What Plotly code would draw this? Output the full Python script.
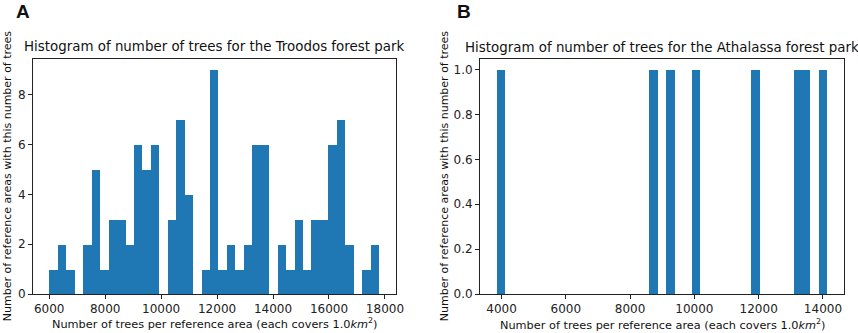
import plotly.graph_objects as go

# ---- data ----
troodos_bin_start = 6010
troodos_bin_width = 302
troodos_counts = [1, 2, 1, 0, 2, 5, 1, 3, 3, 2, 6, 5, 6, 0, 3, 7, 4, 0, 1, 9,
                  1, 2, 1, 2, 6, 6, 0, 2, 1, 3, 1, 3, 3, 6, 7, 2, 0, 1, 2]

athalassa_bin_start = 3844
athalassa_bin_width = 264
athalassa_counts = [1, 0, 0, 0, 0, 0, 0, 0, 0, 0, 0, 0, 0, 0, 0, 0, 0, 0, 1, 0,
                    1, 0, 0, 1, 0, 0, 0, 0, 0, 0, 1, 0, 0, 0, 0, 1, 1, 0, 1]

troodos_xticks = [6000, 8000, 10000, 12000, 14000, 16000, 18000]
troodos_yticks = [0, 2, 4, 6, 8]
athalassa_xticks = [4000, 6000, 8000, 10000, 12000, 14000]
athalassa_yticks = [0.0, 0.2, 0.4, 0.6, 0.8, 1.0]

title_a = "Histogram of number of trees for the Troodos forest park"
title_b = "Histogram of number of trees for the Athalassa forest park"
xlabel = "Number of trees per reference area (each covers 1.0<i>km</i><sup>2</sup>)"
ylabel = "Number of reference areas with this number of trees"

W, H = 858, 333
BAR = "#1f77b4"
FONT = "DejaVu Sans"


def centers(start, width, counts):
    return [start + (i + 0.5) * width for i in range(len(counts))]


def padded(lo, hi, frac=0.05):
    d = hi - lo
    return [lo - frac * d, hi + frac * d]


fig = go.Figure()
fig.add_trace(go.Bar(
    x=centers(troodos_bin_start, troodos_bin_width, troodos_counts),
    y=troodos_counts, width=troodos_bin_width,
    marker=dict(color=BAR, line=dict(width=0)),
    xaxis="x", yaxis="y", showlegend=False))
fig.add_trace(go.Bar(
    x=centers(athalassa_bin_start, athalassa_bin_width, athalassa_counts),
    y=athalassa_counts, width=athalassa_bin_width,
    marker=dict(color=BAR, line=dict(width=0)),
    xaxis="x2", yaxis="y2", showlegend=False))

# plot-area pixel boxes
L1, R1 = 33, 395.5
L2, R2 = 480, 844
TOP, BOT = 58.5, 294

ydom = [(H - BOT) / H, (H - TOP) / H]

axis_common = dict(showline=True, mirror=True, linecolor="#222", linewidth=1,
                   ticks="outside", ticklen=4, tickcolor="#222", showgrid=False,
                   zeroline=False, automargin=False,
                   tickfont=dict(family=FONT, size=12, color="#222"))

t_lo = troodos_bin_start
t_hi = troodos_bin_start + troodos_bin_width * len(troodos_counts)
a_lo = athalassa_bin_start
a_hi = athalassa_bin_start + athalassa_bin_width * len(athalassa_counts)

fig.update_layout(
    width=W, height=H, margin=dict(l=0, r=0, t=0, b=0, autoexpand=False),
    paper_bgcolor="white", plot_bgcolor="white", bargap=0,
    font=dict(family=FONT, size=11, color="#222"),
    xaxis=dict(domain=[L1 / W, R1 / W], range=padded(t_lo, t_hi),
               tickvals=troodos_xticks, tickformat="d", anchor="y", **axis_common),
    yaxis=dict(domain=ydom, range=[0, max(troodos_counts) * 1.05],
               tickvals=troodos_yticks, tickformat="d", anchor="x", **axis_common),
    xaxis2=dict(domain=[L2 / W, R2 / W], range=padded(a_lo, a_hi),
                tickvals=athalassa_xticks, tickformat="d", anchor="y2", **axis_common),
    yaxis2=dict(domain=ydom, range=[0, max(athalassa_counts) * 1.05],
                tickvals=athalassa_yticks, tickformat=".1f", anchor="x2", **axis_common),
)


def ann(text, x, y, size, angle=0, bold=False, family=FONT):
    fig.add_annotation(text=f"<b>{text}</b>" if bold else text,
                       x=x / W, y=1 - y / H, xref="paper", yref="paper",
                       xanchor="center", yanchor="middle", showarrow=False,
                       textangle=angle, font=dict(family=family, size=size, color="#111"))


ann("A", 23, 12, 19, bold=True, family="Liberation Sans")
ann("B", 464, 12, 19, bold=True, family="Liberation Sans")
ann(title_a, (L1 + R1) / 2, 46, 13.4)
ann(title_b, (L2 + R2) / 2, 47, 13.4)
ann(xlabel, (L1 + R1) / 2, 323, 11.3)
ann(xlabel, (L2 + R2) / 2, 324, 11.3)
ann(ylabel, 7, (TOP + BOT) / 2, 11, angle=-90)
ann(ylabel, 444, (TOP + BOT) / 2, 11, angle=-90)

fig.write_html("out.html",
               config={"displayModeBar": False},
               post_script="document.body.style.margin='0px';"
                           "document.body.style.overflow='hidden';")
